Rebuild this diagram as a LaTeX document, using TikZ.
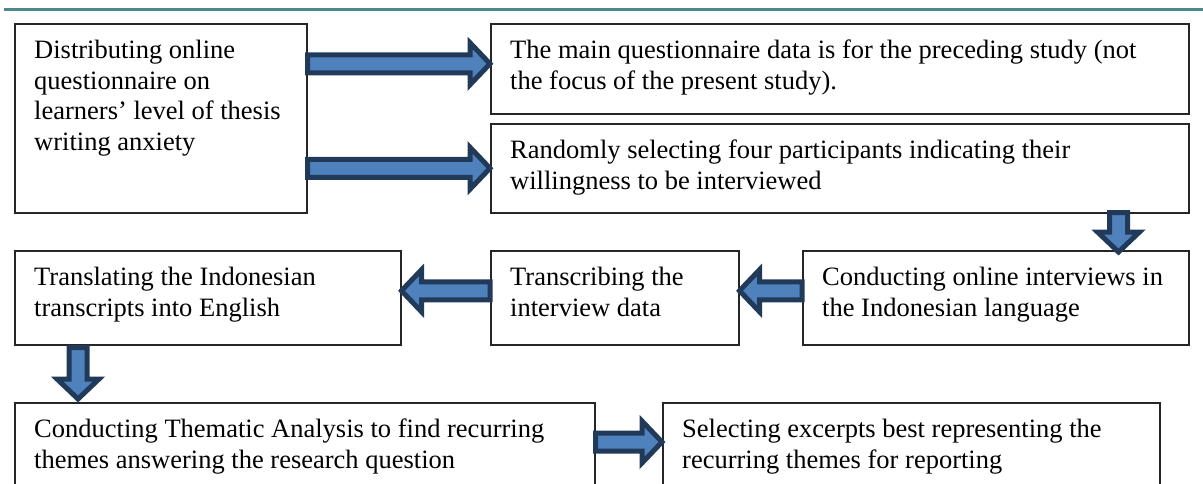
\documentclass[tikz,border=0pt]{standalone}
\usepackage{fontspec}
\setmainfont{Liberation Serif}
\usetikzlibrary{calc}
\definecolor{arrowfill}{RGB}{79,129,189}
\definecolor{arrowedge}{RGB}{33,58,90}
\definecolor{rulecol}{RGB}{78,136,138}
\tikzset{
  stepbox/.style={draw=black!85, line width=1.5pt, rectangle, anchor=north west, inner sep=0pt},
  steptext/.style={anchor=north west, align=left, inner sep=0pt, font=\fontsize{26.5}{30.5}\selectfont},
  blockarrow/.style={fill=arrowfill, draw=arrowedge, line width=5pt, line join=miter}
}
% block arrow from #1 to #2
\newcommand{\flowarrow}[2]{%
  \coordinate (ba-s) at (#1); \coordinate (ba-e) at (#2);
  \coordinate (ba-h) at ($(ba-e)!20pt!(ba-s)$);
  \draw[blockarrow] ($(ba-s)!9pt!90:(ba-e)$) -- ($(ba-h)!9pt!90:(ba-e)$)
    -- ($(ba-h)!21pt!90:(ba-e)$) -- (ba-e) -- ($(ba-h)!21pt!-90:(ba-e)$)
    -- ($(ba-h)!9pt!-90:(ba-e)$) -- ($(ba-s)!9pt!-90:(ba-e)$) -- cycle;}
\begin{document}
\begin{tikzpicture}[x=1pt,y=-1pt]
  \useasboundingbox (0,0) rectangle (1203,483);
  \draw[rulecol, line width=3pt] (4,9) -- (1203,9);
  % boxes
  \node[stepbox, minimum width=292pt, minimum height=189pt] (dist) at (14,23) {};
  \node[stepbox, minimum width=698pt, minimum height=90pt] (main) at (490,23) {};
  \node[stepbox, minimum width=698pt, minimum height=89pt] (rand) at (490,123) {};
  \node[stepbox, minimum width=386pt, minimum height=94pt] (transl) at (14,250) {};
  \node[stepbox, minimum width=248pt, minimum height=94pt] (transc) at (490,250) {};
  \node[stepbox, minimum width=386pt, minimum height=94pt] (conduct) at (802,250) {};
  \node[stepbox, minimum width=580pt, minimum height=120pt] (them) at (14,402) {};
  \node[stepbox, minimum width=497pt, minimum height=120pt] (sel) at (662,402) {};
  % texts
  \node[steptext] (distT) at ($(dist.north west)+(20,17)$)
    {Distributing online\\questionnaire on\\learners’ level of thesis\\writing anxiety};
  \node[steptext] (mainT) at ($(main.north west)+(20,17)$)
    {The main questionnaire data is for the preceding study (not\\the focus of the present study).};
  \node[steptext] (randT) at ($(rand.north west)+(20,17)$)
    {Randomly selecting four participants indicating their\\willingness to be interviewed};
  \node[steptext] (translT) at ($(transl.north west)+(20,17)$)
    {Translating the Indonesian\\transcripts into English};
  \node[steptext] (transcT) at ($(transc.north west)+(20,17)$)
    {Transcribing the\\interview data};
  \node[steptext] (conductT) at ($(conduct.north west)+(20,17)$)
    {Conducting online interviews in\\the Indonesian language};
  \node[steptext] (themT) at ($(them.north west)+(20,17)$)
    {Conducting Thematic Analysis to find recurring\\themes answering the research question};
  \node[steptext] (selT) at ($(sel.north west)+(20,17)$)
    {Selecting excerpts best representing the\\recurring themes for reporting};
  % arrows
  \flowarrow{$(dist.east |- main.west)+(0,-5)$}{$(main.west)+(0,-5)$}
  \flowarrow{dist.east |- rand.west}{rand.west}
  \flowarrow{$(rand.south east)+(-71,-1)$}{$(conduct.north east)+(-71,2)$}
  \flowarrow{$(conduct.west)+(0,-7)$}{$(transc.east)+(0,-7)$}
  \flowarrow{$(transc.west)+(0,-7)$}{$(transl.east)+(0,-7)$}
  \flowarrow{$(transl.south west)+(64,2)$}{$(them.north west)+(64,-3)$}
  \flowarrow{$(them.north east)+(0,40)$}{$(sel.north west)+(0,40)$}
\end{tikzpicture}
\end{document}
